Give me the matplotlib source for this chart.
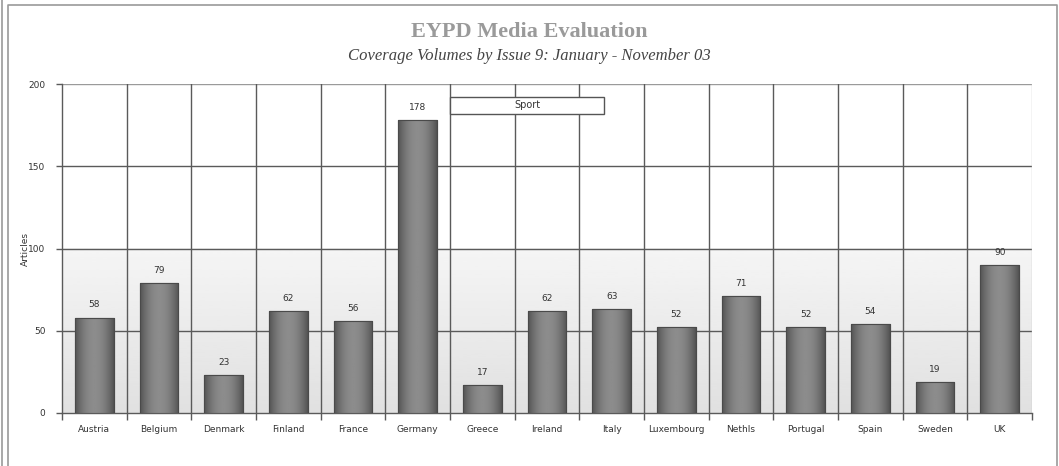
import matplotlib
matplotlib.use("Agg")
import matplotlib.pyplot as plt
import numpy as np
from matplotlib.patches import Rectangle
from matplotlib.lines import Line2D

countries = ["Austria", "Belgium", "Denmark", "Finland", "France", "Germany",
             "Greece", "Ireland", "Italy", "Luxembourg", "Nethls", "Portugal",
             "Spain", "Sweden", "UK"]
articles = [58, 79, 23, 62, 56, 178, 17, 62, 63, 52, 71, 52, 54, 19, 90]
y_ticks = [0, 50, 100, 150, 200]

fig = plt.figure(figsize=(10.59, 4.66), dpi=100)
fig.patch.set_facecolor("white")

# outer frame (double line on the left)
fig.add_artist(Line2D([1.5 / 1059, 1.5 / 1059], [0, 1], color="#9a9a9a", lw=1.2))
fig.add_artist(Line2D([7.5 / 1059, 7.5 / 1059, 1057 / 1059, 1057 / 1059],
                      [0, 1 - 5 / 466, 1 - 5 / 466, 0], color="#9a9a9a", lw=1.2))

ax = fig.add_axes([62 / 1059, 1 - 413 / 466, 970 / 1059, 329 / 466])
n = len(countries)
x = np.arange(n)

# grey backdrop under the 100 line
grad = np.linspace(0.88, 0.96, 64).reshape(-1, 1)
ax.imshow(grad, extent=[-0.5, n - 0.5, 0, 100], origin="lower", cmap="gray",
          vmin=0, vmax=1, aspect="auto", zorder=0)

# grid
for yv in y_ticks[1:-1]:
    ax.axhline(yv, color="#5a5a5a", lw=1.0, zorder=1)
ax.axhline(200, color="#9a9a9a", lw=1.0, zorder=1)
ax.axvline(n - 0.5, color="#c8c8c8", lw=1.0, zorder=1)
for b in np.arange(0.5, n - 0.5, 1):
    ax.axvline(b, color="#5a5a5a", lw=1.0, zorder=1)

bars = ax.bar(x, articles, width=0.6, color="#777777", edgecolor="#4a4a4a",
              lw=0.8, zorder=2)

# cylinder shading on each bar
shade = np.abs(np.linspace(-1, 1, 40))
shade = 0.55 - 0.22 * shade ** 2
for bar in bars:
    bx, bw, bh = bar.get_x(), bar.get_width(), bar.get_height()
    im = ax.imshow(shade.reshape(1, -1), extent=[bx, bx + bw, 0, bh],
                   cmap="gray", vmin=0, vmax=1, aspect="auto", zorder=3)
    im.set_clip_path(bar)
    ax.add_patch(Rectangle((bx, 0), bw, bh, fill=False, ec="#4a4a4a",
                           lw=0.8, zorder=4))
    ax.text(bx + bw / 2, bh + 5, f"{int(bh)}", ha="center", va="bottom",
            fontsize=6.5, color="#333333", zorder=5)

ax.set_xlim(-0.5, n - 0.5)
ax.set_ylim(0, 200)

for side in ["top", "right"]:
    ax.spines[side].set_visible(False)
ax.spines["left"].set_color("#5a5a5a")
ax.spines["bottom"].set_color("#5a5a5a")
ax.spines["left"].set_linewidth(1.0)
ax.spines["bottom"].set_linewidth(1.0)

ax.set_yticks(y_ticks)
ax.set_yticklabels([str(v) for v in y_ticks], fontsize=6.5, color="#333333")
ax.tick_params(axis="y", length=4, width=1.0, color="#5a5a5a", pad=8)
ax.set_xticks(x)
ax.set_xticklabels(countries, fontsize=6.5, color="#333333")
ax.tick_params(axis="x", length=0, pad=9)
ax.set_xticks(np.arange(-0.5, n, 1), minor=True)
ax.tick_params(axis="x", which="minor", length=5, width=1.0, color="#5a5a5a")

ax.set_ylabel("Articles", fontsize=6.5, color="#333333")
ax.yaxis.set_label_coords(-0.033, 0.5)

fig.text(0.5, 1 - 32 / 466, "EYPD Media Evaluation", ha="center", va="center",
         fontsize=16, fontweight="bold", family="Liberation Serif", color="#9a9a9a")
fig.text(0.5, 1 - 56 / 466, "Coverage Volumes by Issue 9: January - November 03",
         ha="center", va="center", fontsize=12, style="italic",
         family="Liberation Serif", color="#444444")

# legend box
ax.add_patch(Rectangle((5.5, 181.8), 2.38, 10.3, fc="white", ec="#555555", lw=1.0,
                       zorder=6))
ax.text(5.5 + 2.38 / 2, 187, "Sport", ha="center", va="center", fontsize=7,
        color="#333333", zorder=7)

fig.savefig("out.png", dpi=100)
